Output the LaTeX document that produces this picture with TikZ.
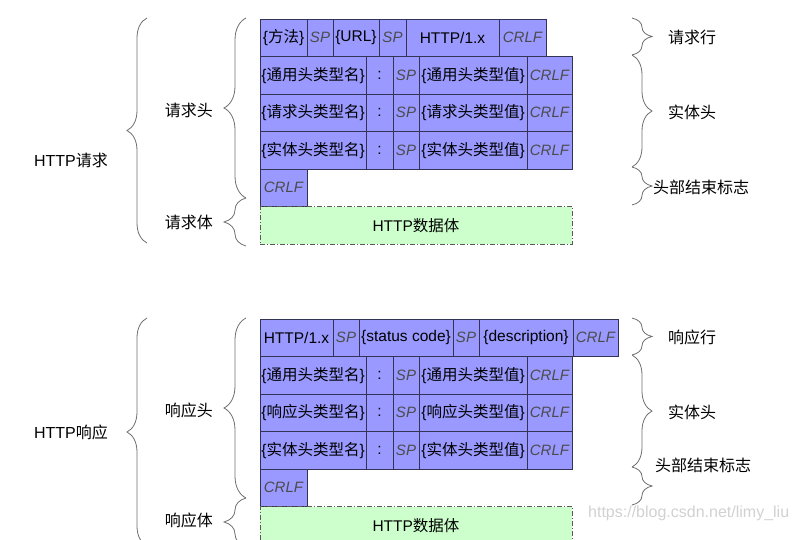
\documentclass[tikz,border=0pt]{standalone}
\usepackage{fontspec}
\setmainfont{Liberation Sans}
\newfontfamily\cjk{Noto Sans CJK SC}
\newcommand\zh[1]{{\cjk #1}}
\usetikzlibrary{positioning,decorations.pathreplacing}
\definecolor{cellblue}{RGB}{153,153,255}
\definecolor{cellline}{RGB}{51,51,85}
\definecolor{bodygreen}{RGB}{204,255,204}
\definecolor{bracegray}{RGB}{110,110,110}
\tikzset{
  cell/.style={draw=cellline, fill=cellblue, line width=0.8pt, minimum height=37.5pt,
    inner sep=0pt, outer sep=0pt, anchor=west, font=\fontsize{15.5}{15.5}\selectfont},
  sepcell/.style={cell, font=\fontsize{15}{15}\selectfont\itshape, text=black!70},
  bodycell/.style={cell, draw=black!65, fill=bodygreen, dash pattern=on 5pt off 2pt on 1pt off 2pt},
  brace/.style={decorate, decoration={brace, amplitude=20pt}, draw=bracegray, line width=0.8pt},
  lbl/.style={font=\fontsize{16}{16}\selectfont, inner sep=0pt}
}
\begin{document}
\begin{tikzpicture}[x=1pt,y=-1pt]
    \useasboundingbox (0,0) rectangle (796,539);
    \clip (0,0) rectangle (796,539);
    % request line
    \node[cell, minimum width=47pt] (q1) at (260,37.75) {\{\zh{方法}\}};
    \node[sepcell, minimum width=26pt, right=0pt of q1] (q2) {SP};
    \node[cell, minimum width=46pt, right=0pt of q2] (q3) {\{URL\}};
    \node[sepcell, minimum width=27pt, right=0pt of q3] (q4) {SP};
    \node[cell, minimum width=93pt, right=0pt of q4] (q5) {HTTP/1.x};
    \node[sepcell, minimum width=47pt, right=0pt of q5] (q6) {CRLF};
    % request headers
    \foreach \r/\kind in {1/通用, 2/请求, 3/实体} {
        \node[cell, minimum width=106pt] (qh\r a) at (260,{37.75+37.5*\r}) {\{\zh{\kind 头类型名}\}};
        \node[cell, minimum width=27pt, right=0pt of qh\r a] (qh\r b) {:};
        \node[sepcell, minimum width=26pt, right=0pt of qh\r b] (qh\r c) {SP};
        \node[cell, minimum width=108pt, right=0pt of qh\r c] (qh\r d) {\{\zh{\kind 头类型值}\}};
        \node[sepcell, minimum width=45pt, right=0pt of qh\r d] (qh\r e) {CRLF};
    }
    \node[sepcell, minimum width=47pt] (qend) at (260,187.75) {CRLF};
    \node[bodycell, minimum width=312pt] (qbody) at (260,225.25) {HTTP\zh{数据体}};
    % response line
    \node[cell, minimum width=73pt] (p1) at (260,337.75) {HTTP/1.x};
    \node[sepcell, minimum width=26pt, right=0pt of p1] (p2) {SP};
    \node[cell, minimum width=94pt, right=0pt of p2] (p3) {\{status code\}};
    \node[sepcell, minimum width=26pt, right=0pt of p3] (p4) {SP};
    \node[cell, minimum width=94pt, right=0pt of p4] (p5) {\{description\}};
    \node[sepcell, minimum width=45pt, right=0pt of p5] (p6) {CRLF};
    % response headers
    \foreach \r/\kind in {1/通用, 2/响应, 3/实体} {
        \node[cell, minimum width=106pt] (ph\r a) at (260,{337.75+37.5*\r}) {\{\zh{\kind 头类型名}\}};
        \node[cell, minimum width=27pt, right=0pt of ph\r a] (ph\r b) {:};
        \node[sepcell, minimum width=26pt, right=0pt of ph\r b] (ph\r c) {SP};
        \node[cell, minimum width=108pt, right=0pt of ph\r c] (ph\r d) {\{\zh{\kind 头类型值}\}};
        \node[sepcell, minimum width=45pt, right=0pt of ph\r d] (ph\r e) {CRLF};
    }
    \node[sepcell, minimum width=47pt] (pend) at (260,487.75) {CRLF};
    \node[bodycell, minimum width=312pt] (pbody) at (260,525.25) {HTTP\zh{数据体}};
    % left braces
    \draw[brace] (147,243) -- (147,18);
    \draw[brace, decoration={amplitude=22pt}] (246,198) -- (246,18);
    \draw[brace, decoration={amplitude=22pt}] (246,246) -- (246,198);
    \draw[brace] (147,546) -- (147,318);
    \draw[brace, decoration={amplitude=22pt}] (246,498) -- (246,318);
    \draw[brace, decoration={amplitude=22pt}] (246,546) -- (246,498);
    \node[lbl, anchor=east] (qall) at (108,160) {HTTP\zh{请求}};
    \node[lbl, anchor=east] (qhead) at (213,110) {\zh{请求头}};
    \node[lbl, anchor=east] (qbod) at (213,222) {\zh{请求体}};
    \node[lbl, anchor=east] (pall) at (108,432) {HTTP\zh{响应}};
    \node[lbl, anchor=east] (phead) at (213,410) {\zh{响应头}};
    \node[lbl, anchor=east] (pbod) at (213,520) {\zh{响应体}};
    % right braces
    \draw[brace] (632,18) -- (632,55);
    \draw[brace] (632,55) -- (632,167);
    \draw[brace] (632,167) -- (632,205);
    \draw[brace] (632,318) -- (632,355);
    \draw[brace] (632,355) -- (632,467);
    \draw[brace] (632,467) -- (632,505);
    \node[lbl, anchor=west] (qline) at (668,37) {\zh{请求行}};
    \node[lbl, anchor=west] (qent) at (668,112) {\zh{实体头}};
    \node[lbl, anchor=west] (qstop) at (653,187) {\zh{头部结束标志}};
    \node[lbl, anchor=west] (pline) at (668,337) {\zh{响应行}};
    \node[lbl, anchor=west] (pent) at (668,412) {\zh{实体头}};
    \node[lbl, anchor=west] (pstop) at (655,465) {\zh{头部结束标志}};
    % watermark
    \node[lbl, anchor=west, text=black!18] (mark) at (588,513) {https://blog.csdn.net/limy\_liu};
\end{tikzpicture}
\end{document}
